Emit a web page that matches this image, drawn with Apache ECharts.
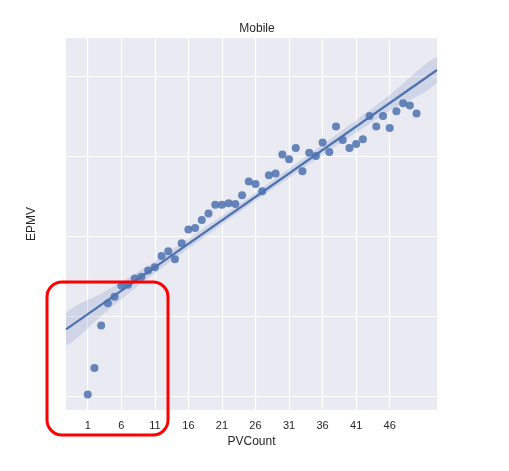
<!DOCTYPE html>
<html>
<head>
<meta charset="utf-8">
<script src="https://cdn.jsdelivr.net/npm/echarts@6/dist/echarts.min.js"></script>
<style>html,body{margin:0;padding:0;background:#fff}#c{width:509px;height:471px}</style>
</head>
<body>
<div id="c"></div>
<script>
// PVCount values (x) and EPMV values (y, in gridline units)
const pvCount = [1,2,3,4,5,6,7,8,9,10,11,12,13,14,15,16,17,18,19,20,21,22,23,24,25,26,27,28,29,30,31,32,33,34,35,36,37,38,39,40,41,42,43,44,45,46,47,48,49,50];
const epmv = [0.02,0.35,0.88,1.16,1.24,1.38,1.39,1.47,1.49,1.57,1.61,1.75,1.81,1.71,1.91,2.08,2.10,2.20,2.28,2.39,2.39,2.41,2.40,2.51,2.68,2.65,2.56,2.76,2.78,3.02,2.96,3.10,2.81,3.04,3.00,3.17,3.05,3.37,3.20,3.10,3.15,3.21,3.50,3.37,3.50,3.35,3.56,3.66,3.63,3.53];
// regression line
const fitX = [-2.24, 53.05];
const fitY = [0.834, 4.075];
// confidence band
const bandX = [-2.24, 3, 8, 13, 18, 25, 33, 40, 46, 53.05];
const bandLower = [0.640, 1.001, 1.345, 1.658, 1.961, 2.382, 2.841, 3.237, 3.564, 3.920];
const bandUpper = [1.028, 1.281, 1.525, 1.798, 2.081, 2.482, 2.961, 3.387, 3.764, 4.235];
// tick labels
const xTicks = [1,6,11,16,21,26,31,36,41,46];
const yGrid = [0,1,2,3,4];

const blue = '#4c72b0';
const font = 'Liberation Sans, Arial, sans-serif';
const chart = echarts.init(document.getElementById('c'));
chart.setOption({
  animation: false,
  title: {
    text: 'Mobile', left: 252, top: 18, textAlign: 'center',
    textStyle: {fontFamily: font, fontSize: 12, fontWeight: 'normal', color: '#262626'}
  },
  grid: {left: 66, top: 38, right: 72, bottom: 61, show: true, backgroundColor: '#eaeaf2', borderWidth: 0},
  xAxis: {
    type: 'value', min: -2.24, max: 53.05,
    name: 'PVCount', nameLocation: 'middle', nameGap: 25,
    nameTextStyle: {fontFamily: font, fontSize: 12, color: '#262626'},
    axisLine: {show: false},
    axisTick: {show: false, customValues: xTicks},
    axisLabel: {customValues: xTicks, fontFamily: font, fontSize: 11, color: '#262626', margin: 10},
    splitLine: {show: true, lineStyle: {color: '#ffffff', width: 1.2}}
  },
  yAxis: {
    type: 'value', min: -0.175, max: 4.475,
    name: 'EPMV', nameLocation: 'middle', nameGap: 28, nameRotate: 90,
    nameTextStyle: {fontFamily: font, fontSize: 12, color: '#262626'},
    axisLine: {show: false},
    axisTick: {show: false, customValues: yGrid},
    axisLabel: {show: false, customValues: yGrid},
    splitLine: {show: true, lineStyle: {color: '#ffffff', width: 1.2}}
  },
  series: [
    {
      type: 'custom', silent: true, z: 1,
      data: [[0, 0]],
      clip: true,
      renderItem: function (params, api) {
        const up = bandX.map((x, i) => api.coord([x, bandUpper[i]]));
        const lo = bandX.map((x, i) => api.coord([x, bandLower[i]])).reverse();
        return {
          type: 'polygon',
          shape: {points: up.concat(lo), smooth: 0.3},
          style: {fill: 'rgba(76,114,176,0.17)', stroke: 'none'}
        };
      }
    },
    {
      type: 'line', data: fitX.map((x, i) => [x, fitY[i]]),
      symbol: 'none', lineStyle: {color: blue, width: 2.2}, z: 2
    },
    {
      type: 'scatter', data: pvCount.map((x, i) => [x, epmv[i]]),
      symbolSize: 8, itemStyle: {color: blue, opacity: 0.85}, z: 3
    }
  ],
  graphic: [{
    type: 'rect', shape: {x: 47, y: 282, width: 121, height: 153, r: 15},
    style: {fill: 'none', stroke: '#ff0000', lineWidth: 3}, z: 100
  }]
});
</script>
</body>
</html>
